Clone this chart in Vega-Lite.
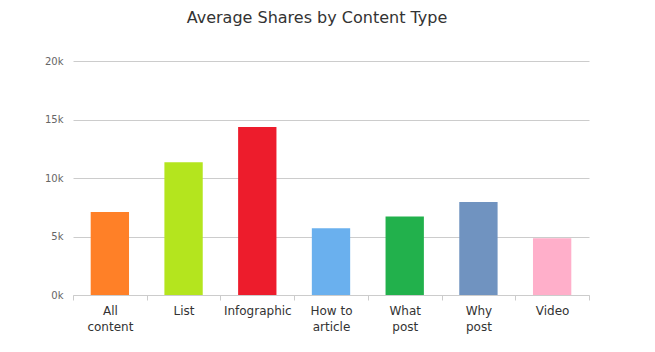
{
  "$schema": "https://vega.github.io/schema/vega-lite/v6.json",
  "autosize": {"type": "none"},
  "width": 516,
  "height": 234,
  "padding": {"left": 73, "top": 61, "right": 66, "bottom": 57},
  "background": "white",
  "title": {
    "text": "Average Shares by Content Type",
    "font": "DejaVu Sans",
    "fontSize": 16,
    "fontWeight": "normal",
    "color": "#333333",
    "anchor": "middle",
    "dx": -14,
    "offset": 30
  },
  "data": {
    "values": [
      {"type": "All content", "shares": 7100, "color": "#FF8027"},
      {"type": "List", "shares": 11350, "color": "#B4E51E"},
      {"type": "Infographic", "shares": 14350, "color": "#ED1C2C"},
      {"type": "How to article", "shares": 5700, "color": "#6AB0EE"},
      {"type": "What post", "shares": 6700, "color": "#22B14C"},
      {"type": "Why post", "shares": 7950, "color": "#7093C0"},
      {"type": "Video", "shares": 4850, "color": "#FFAFCA"}
    ]
  },
  "config": {
    "view": {"stroke": null},
    "font": "DejaVu Sans"
  },
  "mark": {"type": "bar", "width": {"band": 0.52}},
  "encoding": {
    "x": {
      "field": "type",
      "type": "nominal",
      "sort": null,
      "scale": {"paddingInner": 0, "paddingOuter": 0},
      "axis": {
        "title": null,
        "labelAngle": 0,
        "labelFontSize": 12,
        "labelColor": "#333333",
        "labelPadding": 5,
        "labelLineHeight": 16,
        "domainColor": "#cccccc",
        "tickColor": "#cccccc",
        "tickSize": 5,
        "tickBand": "extent",
        "labelExpr": "datum.label == 'All content' ? ['All','content'] : datum.label == 'How to article' ? ['How to','article'] : datum.label == 'What post' ? ['What','post'] : datum.label == 'Why post' ? ['Why','post'] : datum.label"
      }
    },
    "y": {
      "field": "shares",
      "type": "quantitative",
      "scale": {"domain": [0, 20000]},
      "axis": {
        "title": null,
        "values": [0, 5000, 10000, 15000, 20000],
        "labelExpr": "(datum.value/1000) + 'k'",
        "labelFontSize": 10,
        "labelColor": "#666666",
        "labelPadding": 10,
        "domain": false,
        "ticks": false,
        "gridColor": "#cccccc"
      }
    },
    "color": {"field": "color", "type": "nominal", "scale": null}
  }
}
